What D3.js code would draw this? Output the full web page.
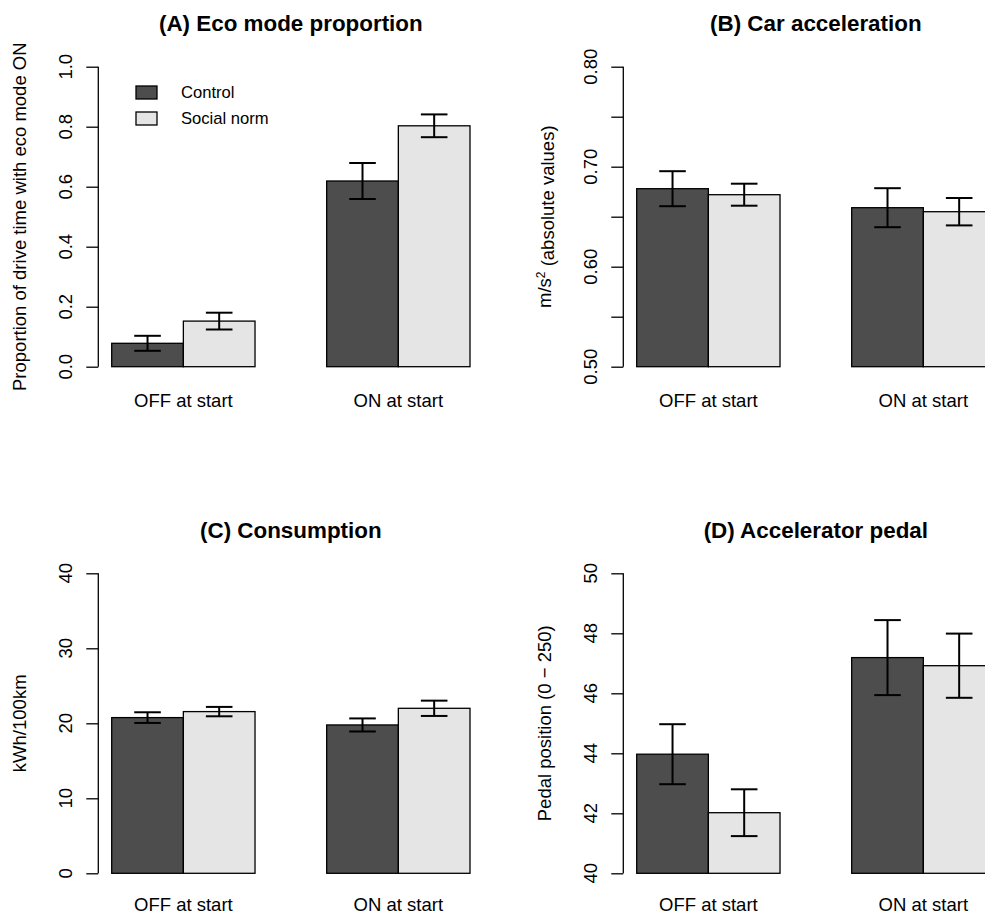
<!DOCTYPE html>
<html>
<head>
<meta charset="utf-8">
<script src="https://cdn.jsdelivr.net/npm/d3@7"></script>
<style>
  html, body { margin: 0; padding: 0; background: #fff; }
  svg { display: block; }
  text { font-family: "Liberation Sans", Arial, Helvetica, sans-serif; fill: #000; }
</style>
</head>
<body>
<svg id="chart" width="985" height="916"></svg>
<script>
// ---- data ----
const categories = ["OFF at start", "ON at start"];
const seriesNames = ["Control", "Social norm"];
const seriesColors = ["#4d4d4d", "#e5e5e5"];

// (A) Eco mode proportion
const ecoControl = [0.078, 0.619];
const ecoControlErr = [0.025, 0.060];
const ecoSocial = [0.152, 0.803];
const ecoSocialErr = [0.028, 0.038];
const ecoTicks = [0, 0.2, 0.4, 0.6, 0.8, 1.0];

// (B) Car acceleration
const accControl = [0.678, 0.659];
const accControlErr = [0.0175, 0.0195];
const accSocial = [0.672, 0.655];
const accSocialErr = [0.011, 0.0137];
const accTicks = [0.50, 0.55, 0.60, 0.65, 0.70, 0.75, 0.80];
const accTickLabels = [0.50, 0.60, 0.70, 0.80];

// (C) Consumption
const consControl = [20.76, 19.78];
const consControlErr = [0.71, 0.87];
const consSocial = [21.56, 22.0];
const consSocialErr = [0.625, 1.02];
const consTicks = [0, 10, 20, 30, 40];

// (D) Accelerator pedal
const pedControl = [43.97, 47.19];
const pedControlErr = [1.0, 1.25];
const pedSocial = [42.02, 46.92];
const pedSocialErr = [0.78, 1.07];
const pedTicks = [40, 42, 44, 46, 48, 50];

// ---- drawing ----
const svg = d3.select("#chart");
const H = 916;

function drawPanel(cfg) {
  const g = svg.append("g");
  const y = d3.scaleLinear().domain(cfg.domain).range([cfg.bottom, cfg.top]);
  const x0 = d3.scaleBand().domain(categories).range([cfg.barLeft, cfg.barRight])
    .paddingInner(1 / 3).paddingOuter(0);
  const x1 = d3.scaleBand().domain(seriesNames).range([0, x0.bandwidth()]).padding(0);

  const rows = [];
  categories.forEach((c, i) => {
    rows.push({cat: c, s: seriesNames[0], v: cfg.control[i], e: cfg.controlErr[i], col: seriesColors[0]});
    rows.push({cat: c, s: seriesNames[1], v: cfg.social[i], e: cfg.socialErr[i], col: seriesColors[1]});
  });

  // bars
  g.selectAll("rect.bar").data(rows).enter().append("rect")
    .attr("class", "bar")
    .attr("x", d => x0(d.cat) + x1(d.s))
    .attr("width", x1.bandwidth())
    .attr("y", d => y(d.v))
    .attr("height", d => y(cfg.domain[0]) - y(d.v))
    .attr("fill", d => d.col)
    .attr("stroke", "#000")
    .attr("stroke-width", 1.3);

  // error bars
  const capHalf = 13.3;
  const cx = d => x0(d.cat) + x1(d.s) + x1.bandwidth() / 2;
  const eb = g.selectAll("g.err").data(rows).enter().append("g").attr("class", "err")
    .attr("stroke", "#000").attr("stroke-width", 2);
  eb.append("line")
    .attr("x1", cx).attr("x2", cx)
    .attr("y1", d => y(d.v - d.e)).attr("y2", d => y(d.v + d.e));
  eb.append("line")
    .attr("x1", d => cx(d) - capHalf).attr("x2", d => cx(d) + capHalf)
    .attr("y1", d => y(d.v + d.e)).attr("y2", d => y(d.v + d.e));
  eb.append("line")
    .attr("x1", d => cx(d) - capHalf).attr("x2", d => cx(d) + capHalf)
    .attr("y1", d => y(d.v - d.e)).attr("y2", d => y(d.v - d.e));

  // y axis
  const axis = d3.axisLeft(y).tickValues(cfg.ticks).tickSize(12).tickFormat("");
  const ag = g.append("g").attr("transform", `translate(${cfg.axisX},0)`).call(axis);
  ag.select(".domain").attr("d", `M0,${y(cfg.ticks[0])}V${y(cfg.ticks[cfg.ticks.length - 1])}`)
    .attr("stroke", "#000").attr("stroke-width", 1.3);
  ag.selectAll(".tick line").attr("stroke", "#000").attr("stroke-width", 1.3);

  // tick labels (rotated, R style)
  g.selectAll("text.tl").data(cfg.tickLabels).enter().append("text")
    .attr("class", "tl")
    .attr("transform", d => `translate(${cfg.axisX - 33},${y(d)}) rotate(-90)`)
    .attr("text-anchor", "middle").attr("dy", "0.35em")
    .style("font-size", "18.5px")
    .text(d => cfg.fmt(d));

  // y title
  const yt = g.append("text")
    .attr("transform", `translate(${cfg.axisX - 79},${(cfg.top + cfg.bottom) / 2}) rotate(-90)`)
    .attr("text-anchor", "middle").attr("dy", "0.35em")
    .style("font-size", "18.5px");
  if (cfg.ylabParts) {
    yt.append("tspan").text(cfg.ylabParts[0]);
    yt.append("tspan").attr("dy", "-0.45em").style("font-size", "12px").text(cfg.ylabParts[1]);
    yt.append("tspan").attr("dy", "0.45em").text(cfg.ylabParts[2]);
  } else {
    yt.text(cfg.ylab);
  }

  // x category labels
  g.selectAll("text.xl").data(categories).enter().append("text")
    .attr("class", "xl")
    .attr("x", d => x0(d) + x0.bandwidth() / 2)
    .attr("y", Math.min(cfg.bottom + 40.5, H - 5.5))
    .attr("text-anchor", "middle")
    .style("font-size", "18.5px")
    .text(d => d);

  // title
  g.append("text")
    .attr("x", (cfg.barLeft + cfg.barRight) / 2)
    .attr("y", cfg.top - 35.5)
    .attr("text-anchor", "middle")
    .style("font-size", "22.4px").style("font-weight", "bold")
    .text(cfg.title);

  return {g, y};
}

const leftA = {axisX: 98.3, barLeft: 111.7, barRight: 470};
const leftB = {axisX: 623.3, barLeft: 636.7, barRight: 995};
const topRow = {top: 66.7, bottom: 366.7};
const botRow = {top: 573.3, bottom: 873.3};

drawPanel(Object.assign({}, leftA, topRow, {
  domain: [0, 1], ticks: ecoTicks, tickLabels: ecoTicks, fmt: d3.format(".1f"),
  control: ecoControl, controlErr: ecoControlErr, social: ecoSocial, socialErr: ecoSocialErr,
  ylab: "Proportion of drive time with eco mode ON", title: "(A) Eco mode proportion"
}));

drawPanel(Object.assign({}, leftB, topRow, {
  domain: [0.5, 0.8], ticks: accTicks, tickLabels: accTickLabels, fmt: d3.format(".2f"),
  control: accControl, controlErr: accControlErr, social: accSocial, socialErr: accSocialErr,
  ylabParts: ["m/s", "2", " (absolute values)"], title: "(B) Car acceleration"
}));

drawPanel(Object.assign({}, leftA, botRow, {
  domain: [0, 40], ticks: consTicks, tickLabels: consTicks, fmt: d3.format("d"),
  control: consControl, controlErr: consControlErr, social: consSocial, socialErr: consSocialErr,
  ylab: "kWh/100km", title: "(C) Consumption"
}));

drawPanel(Object.assign({}, leftB, botRow, {
  domain: [40, 50], ticks: pedTicks, tickLabels: pedTicks, fmt: d3.format("d"),
  control: pedControl, controlErr: pedControlErr, social: pedSocial, socialErr: pedSocialErr,
  ylab: "Pedal position (0 \u2212 250)", title: "(D) Accelerator pedal"
}));

// legend in panel A
const lg = svg.append("g");
seriesNames.forEach((s, i) => {
  lg.append("rect")
    .attr("x", 136).attr("y", 86 + i * 26).attr("width", 21).attr("height", 13)
    .attr("fill", seriesColors[i]).attr("stroke", "#000").attr("stroke-width", 1.3);
  lg.append("text")
    .attr("x", 181).attr("y", 92.5 + i * 26).attr("dy", "0.35em")
    .style("font-size", "16.6px")
    .text(s);
});
</script>
</body>
</html>
